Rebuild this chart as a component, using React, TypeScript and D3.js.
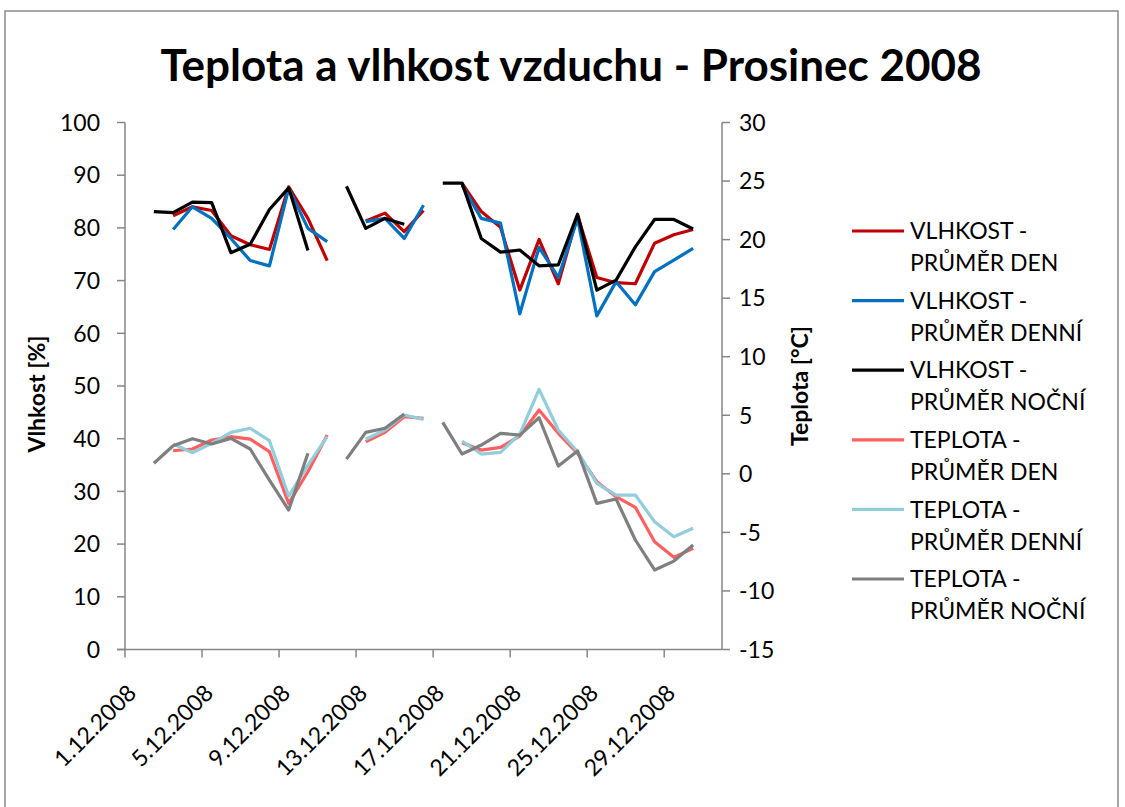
import * as d3 from 'd3';
import React from 'react';

const days = [
  '1.12.2008', '2.12.2008', '3.12.2008', '4.12.2008', '5.12.2008', '6.12.2008', '7.12.2008', '8.12.2008',
  '9.12.2008', '10.12.2008', '11.12.2008', '12.12.2008', '13.12.2008', '14.12.2008', '15.12.2008', '16.12.2008',
  '17.12.2008', '18.12.2008', '19.12.2008', '20.12.2008', '21.12.2008', '22.12.2008', '23.12.2008', '24.12.2008',
  '25.12.2008', '26.12.2008', '27.12.2008', '28.12.2008', '29.12.2008', '30.12.2008', '31.12.2008',
];
const tickDays = ['1.12.2008', '5.12.2008', '9.12.2008', '13.12.2008', '17.12.2008', '21.12.2008', '25.12.2008', '29.12.2008'];

const humTicks = [0, 10, 20, 30, 40, 50, 60, 70, 80, 90, 100];
const tempTicks = [-15, -10, -5, 0, 5, 10, 15, 20, 25, 30];

const vlhkostDen = [null, null, 82.3, 84.0, 83.3, 78.5, 76.8, 75.9, 87.8, 81.8, 73.8, null, 81.3, 82.8, 79.3, 83.3,
  null, 88.5, 83.1, 80.1, 68.2, 77.8, 69.4, 82.4, 70.6, 69.6, 69.4, 77.1, 78.7, 79.7, null];
const vlhkostDenni = [null, null, 79.7, 84.0, 81.8, 78.0, 73.8, 72.8, 87.5, 79.9, 77.4, null, 81.2, 81.8, 78.0, 84.3,
  null, 88.1, 81.8, 80.9, 63.7, 76.3, 70.6, 81.8, 63.3, 69.8, 65.4, 71.7, 73.9, 76.1, null];
const vlhkostNocni = [null, 83.1, 82.9, 84.9, 84.8, 75.3, 76.9, 83.5, 87.6, 75.7, null, 87.9, 79.9, 81.8, 80.7, null,
  88.5, 88.5, 78.0, 75.4, 75.8, 72.8, 73.0, 82.6, 68.2, 70.1, 76.4, 81.6, 81.6, 79.8, null];
const teplotaDen = [null, null, 1.97, 2.12, 2.89, 3.17, 2.97, 1.89, -2.52, 0.18, 3.31, null, 2.74, 3.54, 4.88, 4.74,
  null, 2.66, 2.03, 2.26, 3.23, 5.45, 3.46, 1.75, -0.67, -1.95, -2.86, -5.8, -7.13, -6.36, null];
const teplotaDenni = [null, null, 2.55, 1.8, 2.6, 3.54, 3.89, 2.83, -1.9, 0.75, 3.17, null, 2.95, 3.74, 5.02, 4.65,
  null, 2.8, 1.69, 1.83, 3.4, 7.21, 3.74, 1.89, -0.81, -1.81, -1.81, -4.09, -5.37, -4.65, null];
const teplotaNocni = [null, 0.9, 2.4, 3.0, 2.55, 3.03, 2.12, -0.53, -3.09, 1.75, null, 1.26, 3.54, 3.89, 5.1, null,
  4.4, 1.69, 2.46, 3.46, 3.31, 4.79, 0.67, 1.95, -2.52, -2.15, -5.65, -8.21, -7.45, -6.08, null];

const series = [
  { name: ['VLHKOST -', 'PRŮMĚR DEN'], values: vlhkostDen, color: '#C00000', axis: 'left' },
  { name: ['VLHKOST -', 'PRŮMĚR DENNÍ'], values: vlhkostDenni, color: '#0070C0', axis: 'left' },
  { name: ['VLHKOST -', 'PRŮMĚR NOČNÍ'], values: vlhkostNocni, color: '#000000', axis: 'left' },
  { name: ['TEPLOTA -', 'PRŮMĚR DEN'], values: teplotaDen, color: '#FF5F5F', axis: 'right' },
  { name: ['TEPLOTA -', 'PRŮMĚR DENNÍ'], values: teplotaDenni, color: '#92CDDC', axis: 'right' },
  { name: ['TEPLOTA -', 'PRŮMĚR NOČNÍ'], values: teplotaNocni, color: '#7F7F7F', axis: 'right' },
];

const font = 'Lato, "Open Sans", sans-serif';
const axisColor = '#868686';
const fs = 23;

export default function App() {
  const x = d3.scaleBand<string>().domain(days).range([125, 722]).padding(0);
  const yHum = d3.scaleLinear().domain([0, 100]).range([649.5, 122.5]);
  const yTemp = d3.scaleLinear().domain([-15, 30]).range([649.5, 122.5]);
  const cx = (d: string) => (x(d) as number) + x.bandwidth() / 2;

  return (
    <svg width={1125} height={807} style={{ position: 'absolute', left: 0, top: 0, fontFamily: font }}>
      <rect x={0} y={0} width={1125} height={807} fill="#fff" />
      <rect x={5} y={11} width={1113} height={810} fill="#fff" stroke="#898989" strokeWidth={1.5} />

      <text x={571} y={81} textAnchor="middle" fontSize={44} fontWeight="bold" fill="#000">
        Teplota a vlhkost vzduchu - Prosinec 2008
      </text>

      {/* left axis */}
      <line x1={125} x2={125} y1={yHum(100)} y2={yHum(0)} stroke={axisColor} strokeWidth={1.5} />
      {humTicks.map(t => (
        <g key={'h' + t}>
          <line x1={117} x2={125} y1={yHum(t)} y2={yHum(t)} stroke={axisColor} strokeWidth={1.5} />
          <text x={100} y={yHum(t)} dy="0.36em" textAnchor="end" fontSize={fs}>{t}</text>
        </g>
      ))}
      <text transform={`translate(45,${(yHum(0) + yHum(100)) / 2 + 8}) rotate(-90)`} textAnchor="middle"
        fontSize={fs} fontWeight="bold">Vlhkost [%]</text>

      {/* right axis */}
      <line x1={722} x2={722} y1={yTemp(30)} y2={yTemp(-15)} stroke={axisColor} strokeWidth={1.5} />
      {tempTicks.map(t => (
        <g key={'t' + t}>
          <line x1={722} x2={730} y1={yTemp(t)} y2={yTemp(t)} stroke={axisColor} strokeWidth={1.5} />
          <text x={739} y={yTemp(t)} dy="0.36em" textAnchor="start" fontSize={fs}>{t}</text>
        </g>
      ))}
      <text transform={`translate(808,${(yTemp(-15) + yTemp(30)) / 2}) rotate(-90)`} textAnchor="middle"
        fontSize={fs} fontWeight="bold">Teplota [°C]</text>

      {/* x axis */}
      <line x1={117} x2={722} y1={yHum(0)} y2={yHum(0)} stroke={axisColor} strokeWidth={1.5} />
      {tickDays.map(d => (
        <g key={d}>
          <line x1={x(d)} x2={x(d)} y1={yHum(0)} y2={yHum(0) + 8} stroke={axisColor} strokeWidth={1.5} />
          <text transform={`translate(${cx(d) - 6},${yHum(0) + 36}) rotate(-45)`} textAnchor="end"
            dy="0.55em" fontSize={fs}>{d}</text>
        </g>
      ))}

      {/* lines */}
      {series.map(s => {
        const y = s.axis === 'left' ? yHum : yTemp;
        const gen = d3.line<number | null>()
          .defined(v => v != null)
          .x((_, i) => cx(days[i]))
          .y(v => y(v as number));
        return (
          <path key={s.name.join(' ')} d={gen(s.values) || ''} fill="none" stroke={s.color}
            strokeWidth={3.2} strokeLinejoin="round" />
        );
      })}

      {/* legend */}
      {series.map((s, i) => {
        const ly = 231 + i * 69.6;
        return (
          <g key={'lg' + i}>
            <line x1={852} x2={904} y1={ly} y2={ly} stroke={s.color} strokeWidth={3.2} />
            <text x={910} y={ly} dy="0.36em" fontSize={fs}>{s.name[0]}</text>
            <text x={910} y={ly + 32} dy="0.36em" fontSize={fs}>{s.name[1]}</text>
          </g>
        );
      })}
    </svg>
  );
}
